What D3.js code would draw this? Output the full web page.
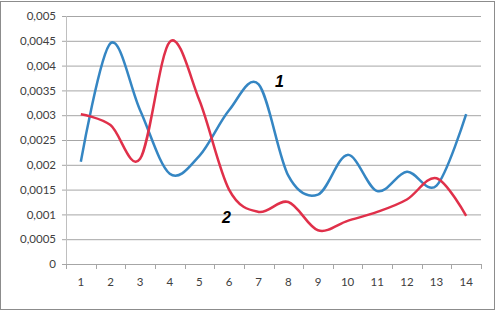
<!DOCTYPE html>
<html>
<head>
    <script src="https://d3js.org/d3.v7.min.js"></script>
    <style>
        body { margin: 0; background: #fff; }
    </style>
</head>
<body>
    <script>
        // values
        const categories = [1, 2, 3, 4, 5, 6, 7, 8, 9, 10, 11, 12, 13, 14];
        const series1 = [0.00206, 0.00445, 0.0031, 0.00182, 0.00218, 0.0031, 0.00362, 0.00178, 0.0014, 0.0022, 0.00147, 0.00186, 0.00158, 0.00302];
        const series2 = [0.00302, 0.0028, 0.00212, 0.00448, 0.0033, 0.0015, 0.00105, 0.00125, 0.00068, 0.00087, 0.00105, 0.0013, 0.00173, 0.00097];
        const yTicks = [0, 0.0005, 0.001, 0.0015, 0.002, 0.0025, 0.003, 0.0035, 0.004, 0.0045, 0.005];

        const width = 497, height = 311;
        const margin = { left: 66, right: 16, top: 16, bottom: 47 };

        const svg = d3.select("body").append("svg")
            .attr("width", width)
            .attr("height", height);

        // outer frame
        svg.append("rect")
            .attr("x", 0.5).attr("y", 1.5)
            .attr("width", width - 3).attr("height", height - 3)
            .attr("fill", "none")
            .attr("stroke", "#8c8c8c")
            .attr("stroke-width", 1);

        const x = d3.scaleBand()
            .domain(categories)
            .range([margin.left, width - margin.right]);

        const y = d3.scaleLinear()
            .domain([0, 0.005])
            .range([height - margin.bottom, margin.top]);

        const fmt = v => String(+v.toFixed(4)).replace(".", ",");

        // gridlines + y labels
        const yAxis = svg.append("g")
            .attr("transform", `translate(${margin.left},0)`)
            .call(d3.axisLeft(y).tickValues(yTicks).tickFormat(fmt)
                .tickSize(-(width - margin.right - margin.left)).tickPadding(10));
        yAxis.select(".domain").remove();
        yAxis.selectAll(".tick line")
            .attr("x1", -4)
            .attr("stroke", "#a6a6a6");
        yAxis.selectAll(".tick text")
            .attr("fill", "#404040")
            .style("font-family", "Lato, 'Open Sans', sans-serif")
            .style("font-size", "11.5px");

        // y axis line
        svg.append("line")
            .attr("x1", margin.left + 0.5).attr("x2", margin.left + 0.5)
            .attr("y1", y(0.005)).attr("y2", y(0))
            .attr("stroke", "#bfbfbf");

        // x axis
        const xAxis = svg.append("g")
            .attr("transform", `translate(0,${y(0)})`)
            .call(d3.axisBottom(x).tickSize(0).tickPadding(14));
        xAxis.select(".domain").attr("stroke", "#a6a6a6");
        xAxis.selectAll(".tick text")
            .attr("fill", "#404040")
            .style("font-family", "Lato, 'Open Sans', sans-serif")
            .style("font-size", "11.5px");

        // tick marks at category boundaries
        svg.append("g")
            .selectAll("line")
            .data(categories.concat([null]))
            .enter().append("line")
            .attr("x1", (d, i) => Math.round(margin.left + i * x.step()) + 0.5)
            .attr("x2", (d, i) => Math.round(margin.left + i * x.step()) + 0.5)
            .attr("y1", y(0))
            .attr("y2", y(0) + 5)
            .attr("stroke", "#a6a6a6");

        const line = d3.line()
            .x((d, i) => x(categories[i]) + x.bandwidth() / 2)
            .y(d => y(d))
            .curve(d3.curveCardinal.tension(0));

        svg.append("path")
            .datum(series1)
            .attr("d", line)
            .attr("fill", "none")
            .attr("stroke", "#3586c3")
            .attr("stroke-width", 2.5);

        svg.append("path")
            .datum(series2)
            .attr("d", line)
            .attr("fill", "none")
            .attr("stroke", "#e0304a")
            .attr("stroke-width", 2.5);

        // series labels
        svg.append("text")
            .attr("x", 275).attr("y", 87)
            .text("1")
            .style("font-family", "'Liberation Sans', Arial, sans-serif")
            .style("font-size", "16px")
            .style("font-weight", "bold")
            .style("font-style", "italic");

        svg.append("text")
            .attr("x", 222).attr("y", 223)
            .text("2")
            .style("font-family", "'Liberation Sans', Arial, sans-serif")
            .style("font-size", "16px")
            .style("font-weight", "bold")
            .style("font-style", "italic");
    </script>
</body>
</html>
